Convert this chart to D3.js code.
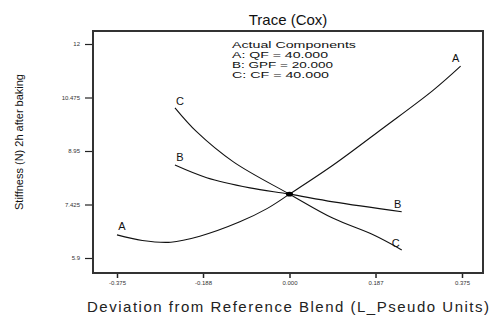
<!DOCTYPE html>
<html>
<head>
<meta charset="utf-8">
<script src="https://cdn.jsdelivr.net/npm/d3@7"></script>
<style>
  html, body { margin: 0; padding: 0; background: #fff; }
  svg { display: block; font-family: "Liberation Sans", Arial, sans-serif; }
</style>
</head>
<body>
<svg id="chart" width="490" height="326"></svg>
<script>
// Trace plot (Cox direction): response vs. deviation from reference blend
const xTicks = [-0.375, -0.188, 0.000, 0.187, 0.375];
const xTickLabels = ["-0.375", "-0.188", "0.000", "0.187", "0.375"];
const yTicks = [12, 10.475, 8.95, 7.425, 5.9];
const yTickLabels = ["12", "10.475", "8.95", "7.425", "5.9"];

// Component traces: deviation (x) and predicted stiffness (y)
const traceA_x = [-0.375, -0.32, -0.258, -0.195, -0.108, -0.05, 0.0, 0.095, 0.203, 0.312, 0.372];
const traceA_y = [6.56, 6.40, 6.35, 6.52, 6.93, 7.30, 7.72, 8.55, 9.60, 10.68, 11.37];
const traceB_x = [-0.249, -0.18, -0.086, 0.0, 0.095, 0.244];
const traceB_y = [8.55, 8.19, 7.90, 7.72, 7.50, 7.22];
const traceC_x = [-0.249, -0.202, -0.122, 0.0, 0.095, 0.182, 0.244];
const traceC_y = [10.18, 9.50, 8.64, 7.72, 7.03, 6.56, 6.13];
const traceNames = ["A", "B", "C"];

const legendLines = ["Actual Components", "A: QF = 40.000", "B: GPF = 20.000", "C: CF = 40.000"];
const legendWidths = [124, 96, 101, 97];

const svg = d3.select("#chart");
const m = { left: 93, right: 483, top: 31, bottom: 273 };

const x = d3.scaleLinear().domain([-0.375, 0.375]).range([117, 462]);
const y = d3.scaleLinear().domain([5.9, 12]).range([258, 44]);

// Title
svg.append("text").attr("x", 288).attr("y", 25).attr("text-anchor", "middle")
  .attr("font-size", 15).attr("fill", "#111").text("Trace (Cox)");

// Axes
const xAxis = d3.axisBottom(x).tickValues(xTicks).tickSize(5).tickPadding(3)
  .tickFormat((d, i) => xTickLabels[i]);
const gx = svg.append("g").attr("transform", `translate(0,${m.bottom})`).call(xAxis);
gx.select(".domain").remove();
gx.selectAll("line").attr("stroke", "#222").attr("stroke-width", 1.5);
gx.selectAll("text").attr("font-size", 6).attr("fill", "#333");

const yAxis = d3.axisLeft(y).tickValues(yTicks).tickSize(8).tickPadding(5)
  .tickFormat((d, i) => yTickLabels[i]);
const gy = svg.append("g").attr("transform", `translate(${m.left},0)`).call(yAxis);
gy.select(".domain").remove();
gy.selectAll("line").attr("stroke", "#222").attr("stroke-width", 1.2);
gy.selectAll("text").attr("font-size", 6).attr("fill", "#333");

// Frame
svg.append("rect").attr("x", m.left).attr("y", m.top)
  .attr("width", m.right - m.left).attr("height", m.bottom - m.top)
  .attr("fill", "none").attr("stroke", "#333").attr("stroke-width", 2);

// Axis titles
svg.append("text").attr("transform", "translate(23,142) rotate(-90)")
  .attr("text-anchor", "middle").attr("font-size", 11).attr("fill", "#111")
  .attr("textLength", 136).attr("lengthAdjust", "spacingAndGlyphs")
  .text("Stiffness (N) 2h after baking");
svg.append("text").attr("x", 288).attr("y", 312).attr("text-anchor", "middle")
  .attr("font-size", 15).attr("fill", "#222")
  .attr("textLength", 402).attr("lengthAdjust", "spacing")
  .text("Deviation from Reference Blend (L_Pseudo Units)");

// Legend of actual components
const leg = svg.append("g");
legendLines.forEach((t, i) => {
  leg.append("text").attr("x", 232).attr("y", 48 + i * 10)
    .attr("font-size", 9.5).attr("fill", "#111")
    .attr("textLength", legendWidths[i]).attr("lengthAdjust", "spacingAndGlyphs")
    .text(t);
});

// Trace curves
const traces = [
  { name: "A", xs: traceA_x, ys: traceA_y },
  { name: "B", xs: traceB_x, ys: traceB_y },
  { name: "C", xs: traceC_x, ys: traceC_y }
];
const line = d3.line().x(d => x(d[0])).y(d => y(d[1])).curve(d3.curveCatmullRom.alpha(0.5));
traces.forEach(t => {
  const pts = t.xs.map((v, i) => [v, t.ys[i]]);
  svg.append("path").datum(pts).attr("d", line)
    .attr("fill", "none").attr("stroke", "#111").attr("stroke-width", 1.1);
});

// End labels placed just above the first and last point of each trace
const labelOffsets = {
  A: { l: [5, -5], r: [-5, -4.5] },
  B: { l: [5, -4], r: [-4, -3.5] },
  C: { l: [5, -3], r: [-6, -2.7] }
};
traces.forEach(t => {
  const n = t.xs.length;
  const o = labelOffsets[t.name];
  svg.append("text").attr("x", x(t.xs[0]) + o.l[0]).attr("y", y(t.ys[0]) + o.l[1])
    .attr("text-anchor", "middle").attr("font-size", 11).attr("fill", "#111").text(t.name);
  svg.append("text").attr("x", x(t.xs[n - 1]) + o.r[0]).attr("y", y(t.ys[n - 1]) + o.r[1])
    .attr("text-anchor", "middle").attr("font-size", 11).attr("fill", "#111").text(t.name);
});

// Reference blend marker
svg.append("ellipse").attr("cx", x(0)).attr("cy", y(traceA_y[6]))
  .attr("rx", 3.5).attr("ry", 2.3).attr("fill", "#000");
</script>
</body>
</html>
